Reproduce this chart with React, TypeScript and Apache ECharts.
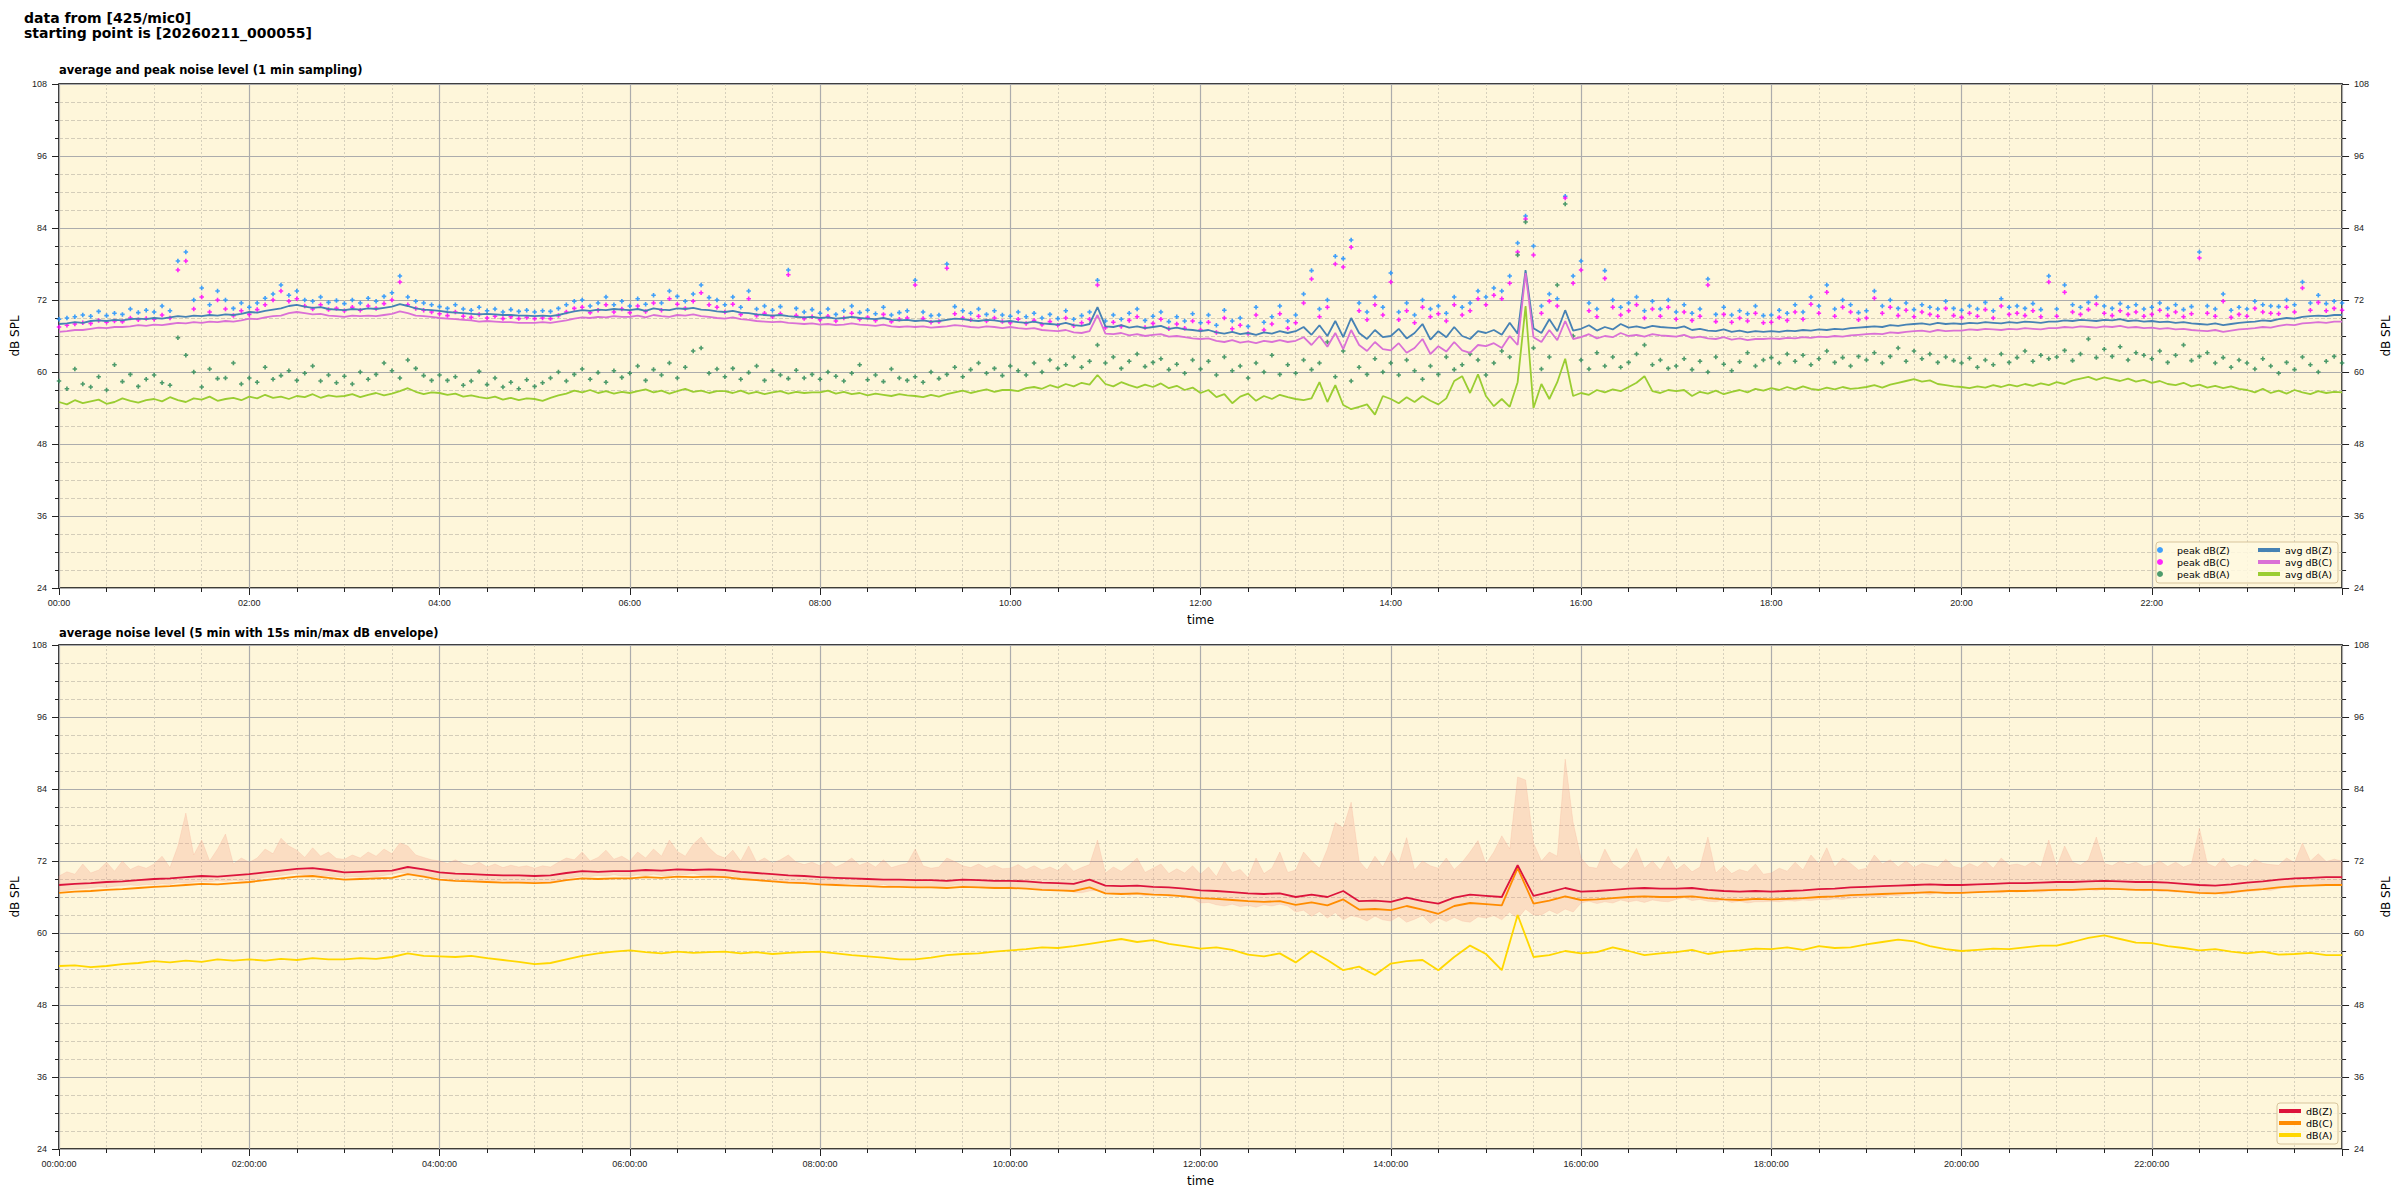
import React, { useEffect, useRef } from 'react';
import * as echarts from 'echarts';

// ---------- tick / text ----------
const mainTitle = 'data from [425/mic0]\nstarting point is [20260211_000055]';
const topTitle = 'average and peak noise level (1 min sampling)';
const botTitle = 'average noise level (5 min with 15s min/max dB envelope)';
const yTicks = [24, 36, 48, 60, 72, 84, 96, 108];
const xTickHours = [0, 2, 4, 6, 8, 10, 12, 14, 16, 18, 20, 22];

// ---------- top chart, 5-minute steps from 00:00 ----------
const TOP_STEP_MIN = 5;
const avgZ = [
68.0,68.1,68.3,68.2,68.5,68.6,68.5,68.7,68.6,68.8,68.9,68.8,
69.0,68.9,69.1,69.3,69.2,69.4,69.3,69.5,69.4,69.6,69.5,69.7,
70.0,69.9,70.2,70.4,70.6,71.0,71.2,70.9,70.7,70.8,70.5,70.4,
70.3,70.5,70.4,70.6,70.5,70.7,70.9,71.3,71.0,70.6,70.4,70.3,
70.2,70.0,69.9,69.8,69.7,69.6,69.7,69.6,69.5,69.5,69.4,69.4,
69.3,69.4,69.3,69.5,69.8,70.1,70.3,70.2,70.4,70.3,70.5,70.4,
70.3,70.5,70.2,70.6,70.4,70.3,70.6,70.5,70.7,70.4,70.3,70.1,
70.0,70.2,69.9,69.8,69.6,69.5,69.4,69.5,69.3,69.2,69.1,69.2,
69.0,69.1,68.9,69.0,69.2,69.0,68.9,68.8,69.0,68.7,68.6,68.7,
68.5,68.6,68.4,68.5,68.7,68.9,68.8,68.6,68.5,68.7,68.6,68.4,
68.5,68.3,68.2,68.4,68.1,68.0,67.9,68.2,67.8,67.7,68.0,70.8,
67.6,67.5,67.8,67.4,67.6,67.3,67.5,67.7,67.2,67.4,67.1,67.0,
66.8,67.0,66.6,66.4,66.7,66.3,66.5,66.2,66.6,66.4,66.8,66.5,
66.8,67.5,66.2,67.8,66.0,68.5,65.8,69.0,66.5,65.5,67.0,65.8,
66.0,67.2,65.6,66.5,68.0,65.4,66.8,65.8,67.5,66.0,65.5,66.8,
66.5,67.0,66.2,68.2,66.4,77.0,67.3,66.5,68.8,66.8,70.3,66.9,
67.2,67.8,66.9,67.5,67.1,68.0,67.4,67.6,67.3,67.7,67.5,67.4,
67.3,67.6,67.0,67.2,66.9,66.8,67.1,66.7,66.9,66.6,66.8,66.7,
66.8,66.7,66.9,66.8,67.0,66.9,67.1,67.0,67.2,67.1,67.3,67.4,
67.5,67.6,67.5,67.8,67.7,67.9,68.0,68.1,67.9,68.2,68.0,68.1,
68.0,68.2,68.1,68.3,68.2,68.1,68.3,68.2,68.4,68.3,68.2,68.4,
68.4,68.6,68.5,68.7,68.6,68.5,68.7,68.6,68.8,68.5,68.6,68.4,
68.5,68.3,68.4,68.2,68.3,68.1,68.0,67.9,68.1,67.8,68.0,68.2,
68.3,68.4,68.6,68.5,68.8,69.0,68.9,69.2,69.3,69.4,69.3,69.5,
69.5];
const avgC = [
66.7,66.8,67.0,67.0,67.2,67.4,67.3,67.5,67.5,67.6,67.8,67.7,
67.9,67.8,68.0,68.2,68.1,68.3,68.2,68.4,68.3,68.5,68.4,68.6,
68.9,68.8,69.1,69.3,69.4,69.8,70.0,69.8,69.6,69.7,69.4,69.3,
69.2,69.4,69.3,69.4,69.3,69.5,69.7,70.1,69.8,69.4,69.3,69.2,
69.0,68.9,68.8,68.7,68.6,68.4,68.5,68.4,68.3,68.3,68.2,68.2,
68.2,68.3,68.2,68.4,68.6,68.9,69.1,69.0,69.2,69.1,69.3,69.2,
69.2,69.4,69.1,69.5,69.3,69.2,69.5,69.4,69.6,69.3,69.2,69.0,
68.9,69.1,68.8,68.7,68.5,68.4,68.3,68.4,68.2,68.1,68.0,68.1,
67.9,68.0,67.8,67.9,68.1,67.9,67.8,67.7,67.9,67.6,67.5,67.6,
67.5,67.6,67.4,67.5,67.6,67.8,67.7,67.5,67.4,67.6,67.5,67.3,
67.5,67.3,67.2,67.3,67.0,66.9,66.8,67.0,66.6,66.5,66.8,69.5,
66.4,66.3,66.5,66.1,66.3,66.0,66.2,66.3,65.9,66.0,65.8,65.6,
65.5,65.6,65.2,65.0,65.3,64.9,65.1,64.8,65.2,65.0,65.3,65.0,
65.2,65.8,64.5,66.0,64.2,66.5,63.8,67.0,64.5,63.5,65.0,63.8,
63.6,64.8,63.2,64.0,65.5,63.0,64.3,63.4,65.0,63.6,63.2,64.5,
64.3,64.8,64.0,66.0,64.5,76.5,65.8,65.0,67.0,65.3,68.5,65.5,
65.8,66.3,65.6,66.0,65.8,66.5,66.0,66.2,65.9,66.3,66.1,66.0,
65.9,66.2,65.7,65.9,65.6,65.5,65.8,65.4,65.6,65.3,65.5,65.5,
65.6,65.5,65.7,65.6,65.8,65.7,65.9,65.8,66.0,65.9,66.1,66.2,
66.3,66.4,66.3,66.6,66.5,66.7,66.8,66.9,66.7,67.0,66.8,66.9,
66.9,67.1,67.0,67.2,67.1,67.0,67.2,67.1,67.3,67.2,67.1,67.3,
67.3,67.5,67.4,67.6,67.5,67.4,67.6,67.5,67.7,67.4,67.5,67.3,
67.4,67.2,67.3,67.1,67.2,67.0,66.9,66.8,67.0,66.7,66.9,67.1,
67.2,67.3,67.5,67.4,67.7,67.9,67.8,68.1,68.2,68.3,68.2,68.4,
68.4];
const avgA = [
55.0,54.6,55.3,54.8,55.1,55.4,54.7,55.0,55.6,55.2,54.9,55.3,
55.5,55.1,55.8,55.3,55.0,55.6,55.4,55.9,55.2,55.5,55.7,55.3,
55.9,55.6,56.2,55.7,55.9,55.5,56.0,55.8,56.3,55.7,56.1,55.9,
56.0,56.3,55.8,56.2,56.5,56.1,56.4,56.8,57.3,56.7,56.3,56.6,
56.5,56.2,56.4,55.9,56.1,55.8,55.6,55.9,55.4,55.7,55.3,55.6,
55.5,55.2,55.7,56.1,56.4,56.9,56.6,57.0,56.5,56.8,56.4,56.7,
56.5,56.8,57.1,56.6,56.9,56.4,56.8,57.2,56.7,56.9,56.5,56.8,
56.8,56.5,56.9,56.4,56.7,56.3,56.6,56.8,56.4,56.7,56.5,56.6,
56.6,56.9,56.4,56.7,56.3,56.5,56.1,56.4,56.2,56.0,56.3,56.1,
56.0,55.8,56.2,55.9,56.3,56.6,56.9,56.5,56.8,57.1,56.7,57.0,
57.0,56.8,57.3,57.5,57.2,57.8,57.4,58.0,57.6,58.2,57.9,59.5,
58.0,57.6,58.3,57.8,57.4,57.9,57.5,58.1,57.3,57.7,57.0,57.4,
56.5,57.0,55.8,56.3,54.8,55.9,56.4,55.2,56.0,55.5,56.2,55.8,
55.5,55.3,55.6,58.3,55.0,57.8,54.5,53.8,54.2,54.6,52.9,56.0,
55.5,54.8,55.8,55.0,56.0,55.2,54.6,55.6,58.5,59.3,56.5,59.6,
56.0,54.3,55.5,54.2,58.3,71.0,54.0,58.0,55.5,58.3,62.2,56.0,
56.5,56.2,57.0,56.6,57.1,56.8,57.5,58.2,59.3,56.8,56.5,57.0,
56.8,57.0,56.0,56.7,56.4,56.9,56.3,56.7,57.0,56.6,57.2,56.9,
57.3,57.0,57.5,57.1,57.6,57.2,57.0,57.4,57.1,57.5,57.2,57.3,
57.5,57.8,57.4,57.9,58.2,58.5,58.8,58.4,58.6,58.0,57.8,57.6,
57.5,57.3,57.6,57.4,57.8,57.5,57.9,57.6,58.0,57.7,58.1,57.8,
58.3,58.0,58.6,58.9,59.2,58.7,59.1,58.8,58.5,58.9,58.4,58.7,
58.2,58.5,58.0,57.8,58.2,57.6,57.9,57.4,57.7,57.3,57.6,57.2,
57.0,56.6,57.2,56.5,56.9,56.4,57.0,56.6,56.3,56.8,56.5,56.7,
56.6];
const peakZ = [
68.8,69.0,69.2,69.5,69.3,70.1,69.4,69.8,69.6,70.5,69.9,70.3,
70.0,71.0,70.2,78.5,80.0,72.0,74.0,71.2,73.5,72.0,70.6,71.5,
70.8,71.5,72.3,73.0,74.5,72.8,73.5,72.0,71.8,72.5,71.6,71.9,
71.4,72.0,71.5,72.3,71.8,72.6,73.2,76.0,72.5,71.8,71.5,71.2,
70.9,70.6,71.2,70.5,70.3,70.8,70.2,70.5,70.0,70.4,70.1,70.3,
70.0,70.2,70.1,70.6,71.2,71.8,72.0,71.0,71.5,72.5,71.2,71.8,
71.0,72.2,71.3,72.8,71.5,73.5,72.6,71.8,73.0,74.5,72.4,72.0,
71.2,72.5,70.8,73.5,70.5,71.0,70.3,70.9,77.0,70.6,70.0,70.4,
69.8,70.5,69.6,70.2,71.0,69.9,70.3,69.7,70.8,69.5,69.9,70.2,
75.3,70.0,69.4,69.5,78.0,70.9,70.2,69.8,70.5,69.6,70.2,69.5,
69.3,70.0,69.2,69.8,69.0,69.6,68.9,70.2,68.8,69.4,70.0,75.3,
68.5,69.5,68.8,69.8,70.5,68.6,69.3,70.0,68.4,69.2,68.5,69.7,
68.2,69.5,67.8,70.3,68.5,69.0,67.6,70.8,68.3,69.2,71.0,68.5,
69.5,73.0,76.9,70.5,72.0,79.3,78.9,82.0,71.5,70.0,72.5,70.8,
76.5,70.0,71.5,69.5,72.0,70.5,71.0,69.8,72.5,70.8,71.5,73.5,
72.5,74.0,73.5,76.0,81.5,86.0,81.0,71.0,73.0,72.2,89.3,76.0,
78.5,71.5,70.5,76.9,72.0,70.8,71.5,72.5,70.2,71.8,70.5,72.0,
70.0,71.2,69.8,70.5,75.5,69.6,70.8,69.5,70.2,69.7,71.0,69.4,
69.5,70.3,69.8,71.2,70.0,72.5,71.0,74.5,70.5,72.0,71.2,69.9,
70.2,73.5,71.0,72.0,70.6,71.5,70.4,71.2,70.8,70.5,71.8,70.6,
70.3,71.0,70.5,71.6,70.2,72.2,70.8,71.0,70.6,71.4,70.4,76.0,
70.5,74.5,71.2,70.8,71.6,72.5,71.0,70.6,71.4,70.8,71.2,70.5,
70.8,71.5,70.6,71.2,70.4,70.9,80.0,71.0,70.5,73.0,70.3,70.8,
70.5,71.8,71.2,71.0,70.9,72.0,71.2,75.0,71.5,72.8,71.4,71.8,
71.5];
const peakC = [
67.5,67.8,68.0,68.2,68.1,68.6,68.3,68.5,68.4,69.0,68.7,68.9,
68.8,69.5,69.0,77.0,78.5,70.5,72.5,70.0,72.0,70.5,69.4,70.2,
69.6,70.4,71.2,72.0,73.5,71.8,72.2,71.0,70.5,71.2,70.4,70.6,
70.2,70.8,70.3,71.0,70.6,71.4,72.0,75.0,71.2,70.6,70.3,70.0,
69.7,69.4,70.0,69.3,69.1,69.6,69.0,69.3,68.9,69.2,68.9,69.1,
68.9,69.0,68.9,69.4,70.0,70.6,70.8,69.9,70.3,71.2,70.0,70.5,
69.9,71.0,70.1,71.5,70.3,72.2,71.3,70.6,71.8,73.2,71.2,70.8,
70.0,71.3,69.6,72.2,69.4,69.8,69.2,69.7,76.2,69.4,68.9,69.2,
68.7,69.3,68.5,69.0,69.8,68.8,69.1,68.6,69.6,68.4,68.8,69.0,
74.5,68.9,68.3,68.4,77.3,69.7,69.0,68.7,69.3,68.5,69.0,68.4,
68.2,68.8,68.1,68.6,67.9,68.4,67.8,69.0,67.7,68.2,68.8,74.5,
67.4,68.3,67.6,68.6,69.2,67.4,68.1,68.8,67.2,68.0,67.3,68.5,
67.0,68.3,66.6,69.0,67.2,67.8,66.4,69.5,67.0,68.0,69.7,67.3,
68.2,71.5,75.5,69.2,70.8,78.0,77.5,80.8,70.2,68.7,71.2,69.5,
75.0,68.7,70.2,68.2,70.8,69.2,69.7,68.5,71.2,69.5,70.2,72.2,
71.2,72.8,72.2,74.8,80.0,85.5,79.5,69.8,71.8,71.0,89.0,74.8,
77.0,70.2,69.2,75.6,70.8,69.5,70.2,71.2,69.0,70.5,69.3,70.8,
68.8,70.0,68.6,69.3,74.5,68.4,69.6,68.3,69.0,68.5,69.8,68.2,
68.3,69.1,68.6,70.0,68.8,71.3,69.8,73.3,69.3,70.8,70.0,68.7,
69.0,72.3,69.8,70.8,69.4,70.3,69.2,70.0,69.6,69.3,70.6,69.4,
69.1,69.8,69.3,70.4,69.0,71.0,69.6,69.8,69.4,70.2,69.2,75.0,
69.3,73.3,70.0,69.6,70.4,71.3,69.8,69.4,70.2,69.6,70.0,69.3,
69.6,70.3,69.4,70.0,69.2,69.7,79.0,69.8,69.3,71.8,69.1,69.6,
69.3,70.6,70.0,69.8,69.7,70.8,70.0,74.0,70.3,71.6,70.2,70.6,
70.3];
const peakA = [
58.5,57.2,60.5,58.0,57.5,59.2,57.0,61.2,58.4,59.6,57.6,58.8,
59.5,58.2,57.8,65.7,62.8,60.0,57.5,60.5,58.9,59.0,61.5,58.0,
59.0,58.3,60.8,58.8,59.4,60.2,58.6,59.8,61.0,58.5,59.5,58.2,
59.3,58.0,60.0,58.8,59.6,61.5,60.2,59.0,62.0,60.6,59.4,58.6,
59.5,58.6,59.2,57.8,58.5,60.1,57.9,59.0,57.5,58.3,57.2,58.7,
57.6,58.2,59.0,60.0,58.5,59.6,60.5,58.8,59.9,58.3,60.2,59.1,
59.8,61.0,58.6,60.4,59.5,61.5,59.0,60.8,63.5,64.0,59.8,60.5,
59.2,60.6,58.8,59.9,61.0,58.6,60.2,59.5,58.9,60.3,59.0,59.6,
58.8,60.0,59.3,58.5,59.8,61.2,58.7,59.5,58.4,60.5,59.0,58.6,
59.2,58.3,60.0,58.9,59.6,60.8,59.2,60.4,61.5,59.8,60.6,59.4,
61.0,60.2,59.5,61.5,60.0,62.0,60.6,61.2,62.5,60.8,61.8,64.5,
61.5,62.5,60.6,61.8,63.0,60.9,61.6,62.2,60.4,61.3,59.8,62.0,
60.5,61.8,59.5,62.5,60.2,61.0,59.0,61.5,60.0,62.8,59.6,61.2,
59.8,62.0,60.4,61.5,65.0,59.2,63.5,58.5,60.8,59.6,62.2,60.0,
61.5,59.5,62.0,60.2,58.8,61.0,59.6,62.5,60.4,61.2,63.0,62.0,
59.5,61.5,63.5,62.5,79.5,85.0,64.0,60.5,62.5,74.5,88.0,66.0,
62.0,60.5,63.2,61.0,62.5,60.8,61.6,63.0,64.5,61.2,62.0,60.6,
61.0,62.2,60.4,61.8,60.0,62.5,61.3,60.2,61.7,63.2,61.0,62.0,
62.4,61.5,63.0,61.8,62.8,61.2,62.2,63.5,61.6,62.4,61.0,62.6,
62.0,63.2,61.5,62.6,64.0,61.8,63.5,62.2,63.0,61.6,62.5,61.9,
61.5,62.3,60.8,62.0,61.2,63.0,61.6,62.4,63.5,61.8,62.8,62.2,
62.5,63.6,61.9,63.0,65.5,62.4,63.8,62.6,64.2,62.0,63.2,62.8,
62.2,63.5,61.6,62.8,64.5,61.9,62.6,63.2,61.5,62.4,60.8,62.0,
61.5,60.5,62.2,61.0,59.8,61.6,60.4,62.5,61.2,60.0,61.8,62.6,
61.5];

// ---------- bottom chart ----------
const BOT_STEP_MIN = 10;
const botZ = [
68.0,68.2,68.3,68.5,68.6,68.8, 69.0,69.1,69.3,69.5,69.4,69.6,
69.8,70.1,70.4,70.7,70.8,70.5, 70.1,70.2,70.3,70.4,71.0,70.6,
70.1,69.9,69.8,69.7,69.6,69.6, 69.5,69.6,70.0,70.3,70.2,70.3,
70.3,70.5,70.4,70.6,70.5,70.6, 70.5,70.2,70.0,69.8,69.6,69.5,
69.3,69.2,69.1,69.0,68.9,68.9, 68.8,68.8,68.7,68.9,68.8,68.7,
68.7,68.6,68.4,68.3,68.2,68.9, 67.9,67.8,67.9,67.7,67.6,67.4,
67.1,67.0,66.8,66.6,66.5,66.6, 66.0,66.4,66.0,67.0,65.3,65.4,
65.2,65.9,65.3,64.9,65.9,66.4, 66.2,66.0,71.3,66.2,66.8,67.5,
66.9,67.0,67.2,67.4,67.5,67.4, 67.4,67.5,67.2,67.0,66.9,67.0,
66.9,67.0,67.1,67.3,67.4,67.6, 67.7,67.8,67.9,68.0,68.1,68.0,
68.0,68.1,68.2,68.3,68.3,68.4, 68.5,68.5,68.6,68.7,68.6,68.5,
68.5,68.4,68.2,68.0,67.9,68.1, 68.4,68.6,68.9,69.1,69.2,69.3,
69.3];
const botC = [
66.7,66.9,67.0,67.2,67.3,67.5, 67.7,67.8,68.0,68.2,68.1,68.3,
68.5,68.8,69.1,69.4,69.5,69.2, 68.9,69.0,69.1,69.2,69.8,69.4,
68.9,68.7,68.6,68.5,68.4,68.4, 68.3,68.4,68.8,69.1,69.0,69.1,
69.1,69.3,69.2,69.4,69.3,69.4, 69.3,69.0,68.8,68.6,68.4,68.3,
68.1,68.0,67.9,67.8,67.7,67.7, 67.6,67.6,67.5,67.7,67.6,67.5,
67.5,67.4,67.2,67.1,67.0,67.6, 66.6,66.5,66.6,66.4,66.3,66.1,
65.8,65.7,65.5,65.3,65.2,65.3, 64.7,65.1,64.6,65.6,63.9,64.0,
63.8,64.5,63.9,63.2,64.5,65.0, 64.8,64.6,70.8,64.9,65.4,66.1,
65.5,65.6,65.8,66.0,66.1,66.0, 66.0,66.1,65.8,65.6,65.5,65.7,
65.6,65.7,65.8,66.0,66.1,66.3, 66.4,66.5,66.6,66.7,66.8,66.7,
66.7,66.8,66.9,67.0,67.0,67.1, 67.2,67.2,67.3,67.4,67.3,67.2,
67.2,67.1,66.9,66.7,66.6,66.8, 67.1,67.3,67.6,67.8,67.9,68.0,
68.0];
const botA = [
54.5,54.6,54.3,54.5,54.8,55.0, 55.3,55.1,55.4,55.2,55.6,55.4,
55.6,55.4,55.7,55.5,55.8,55.6, 55.6,55.8,55.7,56.0,56.6,56.2,
56.1,56.0,56.2,55.8,55.5,55.2, 54.8,55.0,55.6,56.2,56.6,56.9,
57.1,56.8,56.6,56.9,56.7,56.8, 56.9,56.6,56.8,56.5,56.7,56.8,
56.9,56.6,56.3,56.1,55.9,55.6, 55.6,55.9,56.3,56.5,56.6,56.9,
57.1,57.3,57.6,57.5,57.8,58.2, 58.6,59.0,58.5,58.8,58.2,57.8,
57.4,57.6,57.2,56.4,56.1,56.6, 55.1,57.0,55.5,53.8,54.4,53.0,
54.9,55.3,55.5,53.8,56.0,57.9, 56.5,53.8,63.0,56.0,56.3,57.0,
56.6,56.8,57.6,57.0,56.3,56.6, 56.8,57.2,56.5,56.9,57.1,57.4,
57.3,57.6,57.2,57.8,57.5,57.6, 58.1,58.5,58.9,58.6,57.8,57.3,
57.0,57.2,57.4,57.3,57.6,57.9, 57.9,58.5,59.2,59.6,59.0,58.4,
58.3,57.8,57.5,57.1,57.3,56.9, 56.6,56.9,56.4,56.5,56.7,56.3,
56.3];
const ENV_STEP_MIN = 5;
const envMax = [
69.5,70.2,69.8,71.5,70.0,70.5,71.8,70.3,72.0,70.6,71.2,70.8,
71.5,72.8,70.9,74.5,80.0,73.0,75.5,72.0,74.0,76.5,71.5,72.5,
71.8,72.5,74.0,73.2,75.8,74.5,73.8,72.6,74.2,72.8,73.5,72.4,
72.3,73.0,72.5,73.5,72.8,74.0,73.2,75.0,74.5,73.0,72.6,72.2,
72.0,71.6,72.2,71.5,71.2,71.8,71.0,71.5,70.9,71.3,71.0,71.2,
70.8,71.2,71.0,71.8,72.5,72.2,73.5,72.0,72.6,73.8,72.3,72.8,
72.0,73.5,72.5,74.0,72.8,75.5,73.6,72.8,74.8,76.0,74.2,73.0,
72.5,73.8,72.0,74.5,71.8,72.5,71.6,72.2,73.0,71.8,71.4,71.8,
71.2,72.0,71.0,71.6,72.5,71.3,71.8,71.0,72.2,70.9,71.3,71.6,
74.0,71.2,70.8,71.0,72.5,71.9,71.2,70.9,71.5,70.8,71.3,70.7,
70.8,71.4,70.6,71.2,70.5,71.0,70.4,71.6,70.3,70.9,71.4,75.5,
70.0,71.0,70.3,71.3,72.5,70.1,70.8,71.5,69.9,70.7,70.0,71.2,
69.8,71.0,69.4,72.0,70.1,70.6,69.2,72.5,69.9,70.8,73.5,70.1,
70.5,73.5,72.0,70.8,74.0,78.4,77.5,81.8,72.0,70.5,72.8,71.0,
73.7,71.5,75.9,70.5,72.0,71.2,70.8,72.5,70.6,71.8,73.5,75.4,
71.5,73.5,76.2,74.0,86.0,85.5,75.0,72.0,73.5,72.8,89.0,78.4,
72.5,71.0,70.8,74.0,71.5,70.6,71.8,74.1,70.8,72.0,70.5,72.8,
70.5,71.5,70.2,71.0,76.0,70.0,71.2,69.9,70.6,70.2,71.5,69.8,
70.0,70.8,70.3,71.8,70.5,73.0,71.5,74.2,71.0,72.5,71.6,70.5,
70.8,73.0,71.5,72.2,71.0,72.0,70.9,71.6,71.3,71.0,72.3,71.1,
70.8,71.6,71.0,72.0,70.8,72.5,71.3,71.5,71.1,71.9,71.0,75.5,
71.0,74.5,71.8,71.3,72.2,76.0,71.6,71.2,72.0,71.4,71.8,71.1,
71.3,72.0,71.1,71.8,71.0,71.5,77.5,71.6,71.0,72.5,70.9,71.4,
71.0,72.3,71.6,71.4,71.3,72.5,71.7,75.0,72.0,73.2,71.9,72.3,
72.0];
const envMin = [
67.0,67.1,67.3,67.4,67.5,67.7,67.6,67.8,67.9,68.0,67.9,68.1,
68.0,68.2,68.1,68.4,68.3,68.5,68.6,68.5,68.7,68.6,68.8,68.7,
68.9,69.0,69.3,69.4,69.6,69.8,69.9,69.7,69.8,69.6,69.5,69.4,
69.3,69.4,69.3,69.5,69.4,69.6,69.8,70.1,69.9,69.6,69.5,69.4,
69.2,69.1,69.0,68.9,68.8,68.7,68.8,68.6,68.7,68.5,68.6,68.5,
68.5,68.6,68.5,68.8,69.1,69.3,69.5,69.4,69.6,69.5,69.7,69.5,
69.5,69.7,69.5,69.8,69.6,69.5,69.8,69.7,69.9,69.6,69.7,69.4,
69.3,69.5,69.1,69.0,68.8,68.7,68.6,68.7,68.5,68.4,68.3,68.4,
68.2,68.3,68.1,68.2,68.3,68.1,68.0,67.9,68.1,67.8,67.7,67.8,
67.7,67.8,67.6,67.7,67.8,68.0,67.9,67.7,67.6,67.8,67.7,67.5,
67.7,67.5,67.4,67.5,67.2,67.1,67.0,67.2,66.8,66.7,67.0,67.1,
66.6,66.5,66.7,66.3,66.5,66.2,66.4,66.5,66.1,66.2,66.0,65.8,
65.0,65.1,64.7,64.5,64.8,64.4,64.6,64.3,64.7,64.5,64.8,64.5,
63.5,63.8,62.8,63.6,62.5,63.4,62.2,62.9,62.6,62.0,62.8,62.2,
62.0,62.8,61.8,62.3,62.9,61.6,62.5,61.9,62.6,62.0,61.8,62.7,
62.5,62.9,62.2,63.5,62.4,64.0,63.0,63.0,63.8,63.2,64.0,63.5,
65.0,65.3,64.9,65.2,65.0,65.5,65.2,65.4,65.1,65.5,65.3,65.2,
65.6,65.9,65.4,65.6,65.3,65.2,65.5,65.1,65.3,65.0,65.2,65.2,
65.3,65.2,65.4,65.3,65.5,65.4,65.6,65.5,65.7,65.6,65.8,65.9,
66.0,66.1,66.0,66.3,66.2,66.4,66.5,66.6,66.4,66.7,66.5,66.6,
66.6,66.8,66.7,66.9,66.8,66.7,66.9,66.8,67.0,66.9,66.8,67.0,
67.0,67.2,67.1,67.3,67.2,67.1,67.3,67.2,67.4,67.1,67.2,67.0,
67.1,66.9,67.0,66.8,66.9,66.7,66.6,66.5,66.7,66.4,66.6,66.8,
66.9,67.0,67.2,67.1,67.4,67.6,67.5,67.8,67.9,68.0,67.9,68.1,
68.1];

// ---------- helpers ----------
const pairs = (arr: number[], stepMin: number) => arr.map((v, i) => [(i * stepMin) / 60, v]);
const pad2 = (n: number) => String(n).padStart(2, '0');

const FONT = 'DejaVu Sans';
const TICKFONT = 'Liberation Sans';
const BG = '#fef6da';
const PLUS = 'path://M1.6,0H3.4V1.6H5V3.4H3.4V5H1.6V3.4H0V1.6H1.6Z';

const G_LEFT = 59;
const G_RIGHT = 57;
const TOP1 = 84;
const TOP2 = 645;
const GH = 504;

function xAxisCfg(gridIndex: number, longFmt: boolean) {
  return {
    type: 'value', gridIndex, min: 0, max: 24, interval: 2,
    name: 'time', nameLocation: 'middle', nameGap: 26,
    nameTextStyle: { fontFamily: FONT, fontSize: 12, color: '#000' },
    axisLine: { show: false },
    axisTick: { show: true, length: 7, lineStyle: { color: '#222', width: 1 } },
    minorTick: { show: true, splitNumber: 4, length: 4, lineStyle: { color: '#222', width: 1 } },
    axisLabel: {
      fontFamily: TICKFONT, fontSize: 9, color: '#222', margin: 10,
      showMaxLabel: false,
      formatter: (v: number) => (xTickHours.includes(v) ? (longFmt ? `${pad2(v)}:00:00` : `${pad2(v)}:00`) : ''),
    },
    splitLine: { show: true, lineStyle: { color: '#acacac', width: 1.2 } },
    minorSplitLine: { show: true, lineStyle: { color: '#cbc6b4', width: 0.8, type: [2, 2] } },
  };
}

function yAxisCfg(gridIndex: number, position: 'left' | 'right', main: boolean) {
  return {
    type: 'value', gridIndex, position, min: yTicks[0], max: yTicks[yTicks.length - 1], interval: 12,
    name: 'dB SPL', nameLocation: 'middle', nameGap: position === 'left' ? 35 : 30, nameRotate: 90,
    nameTextStyle: { fontFamily: FONT, fontSize: 12, color: '#000' },
    axisLine: { show: false },
    axisTick: { show: true, length: 7, lineStyle: { color: '#222', width: 1 } },
    minorTick: { show: true, splitNumber: 4, length: 4, lineStyle: { color: '#222', width: 1 } },
    axisLabel: { fontFamily: TICKFONT, fontSize: 9, color: '#222', margin: 12 },
    splitLine: { show: main, lineStyle: { color: '#acacac', width: 1.2 } },
    minorSplitLine: { show: main, lineStyle: { color: '#c9c3b0', width: 0.8, type: [4, 2] } },
  };
}

export default function App() {
  const ref = useRef<HTMLDivElement>(null);
  useEffect(() => {
    if (!ref.current) return;
    const chart = echarts.init(ref.current, undefined, { renderer: 'svg' });
    const line = (name: string, data: number[], step: number, color: string, xi: number, yi: number, width = 1.8) => ({
      name, type: 'line', data: pairs(data, step), xAxisIndex: xi, yAxisIndex: yi,
      showSymbol: false, symbol: 'none', lineStyle: { color, width }, itemStyle: { color }, z: 3,
    });
    const scat = (name: string, data: number[], color: string) => ({
      name, type: 'scatter', data: pairs(data, TOP_STEP_MIN), xAxisIndex: 0, yAxisIndex: 0,
      symbol: PLUS, symbolSize: 4.5, itemStyle: { color, opacity: 0.85 }, z: 2,
    });
    const legendText = { fontFamily: FONT, fontSize: 9.5, color: '#000', lineHeight: 12 };
    const envSeries = {
      name: 'envelope', type: 'custom', xAxisIndex: 1, yAxisIndex: 2, silent: true, z: 1,
      data: [[0, envMin[0]]],
      renderItem: (_params: any, api: any) => {
        const pts: number[][] = [];
        envMax.forEach((v, i) => pts.push(api.coord([(i * ENV_STEP_MIN) / 60, v])));
        for (let i = envMin.length - 1; i >= 0; i--) pts.push(api.coord([(i * ENV_STEP_MIN) / 60, envMin[i]]));
        return {
          type: 'polygon', shape: { points: pts },
          style: { fill: 'rgba(245,150,128,0.26)', stroke: 'rgba(245,150,128,0.3)', lineWidth: 0.6 },
        };
      },
    };
    const option: any = {
      animation: false,
      backgroundColor: '#ffffff',
      title: [
        { text: mainTitle, left: 24, top: 10, padding: 0,
          textStyle: { fontFamily: FONT, fontSize: 14, fontWeight: 'bold', color: '#000', lineHeight: 15.5 } },
        { text: topTitle, left: G_LEFT, top: 63, padding: 0,
          textStyle: { fontFamily: FONT, fontSize: 11.5, fontWeight: 'bold', color: '#000', lineHeight: 14 } },
        { text: botTitle, left: G_LEFT, top: 626, padding: 0,
          textStyle: { fontFamily: FONT, fontSize: 11.5, fontWeight: 'bold', color: '#000', lineHeight: 14 } },
      ],
      grid: [
        { left: G_LEFT, right: G_RIGHT, top: TOP1, height: GH, show: true, backgroundColor: BG, borderColor: '#000', borderWidth: 1.6 },
        { left: G_LEFT, right: G_RIGHT, top: TOP2, height: GH, show: true, backgroundColor: BG, borderColor: '#000', borderWidth: 1.6 },
      ],
      xAxis: [xAxisCfg(0, false), xAxisCfg(1, true)],
      yAxis: [yAxisCfg(0, 'left', true), yAxisCfg(0, 'right', false), yAxisCfg(1, 'left', true), yAxisCfg(1, 'right', false)],
      legend: [
        { orient: 'vertical', left: 2157, top: 544, padding: 0, itemGap: 0, itemWidth: 24, itemHeight: 6, z: 20,
          selectedMode: false, textStyle: legendText,
          data: [{ name: 'peak dB(Z)', icon: 'circle' }, { name: 'peak dB(C)', icon: 'circle' }, { name: 'peak dB(A)', icon: 'circle' }] },
        { orient: 'vertical', left: 2258, top: 544, padding: 0, itemGap: 0, itemWidth: 22, itemHeight: 4, z: 20,
          selectedMode: false, textStyle: legendText,
          data: [{ name: 'avg dB(Z)', icon: 'rect' }, { name: 'avg dB(C)', icon: 'rect' }, { name: 'avg dB(A)', icon: 'rect' }] },
        { orient: 'vertical', left: 2279, top: 1105, padding: 0, itemGap: 0, itemWidth: 22, itemHeight: 4, z: 20,
          selectedMode: false, textStyle: legendText,
          data: [{ name: 'dB(Z)', icon: 'rect' }, { name: 'dB(C)', icon: 'rect' }, { name: 'dB(A)', icon: 'rect' }] },
      ],
      graphic: [
        { type: 'rect', z: 10, shape: { x: 2156, y: 542, width: 182, height: 41, r: 3 },
          style: { fill: 'rgba(255,249,225,0.85)', stroke: '#d8c59c', lineWidth: 1 } },
        { type: 'rect', z: 10, shape: { x: 2277, y: 1103, width: 61, height: 41, r: 3 },
          style: { fill: 'rgba(255,249,225,0.85)', stroke: '#d8c59c', lineWidth: 1 } },
      ],
      series: [
        scat('peak dB(Z)', peakZ, '#1e90ff'),
        scat('peak dB(C)', peakC, '#ff00ff'),
        scat('peak dB(A)', peakA, '#2e8b57'),
        line('avg dB(Z)', avgZ, TOP_STEP_MIN, '#4682b4', 0, 0),
        line('avg dB(C)', avgC, TOP_STEP_MIN, '#da70d6', 0, 0),
        line('avg dB(A)', avgA, TOP_STEP_MIN, '#9acd32', 0, 0),
        envSeries,
        line('dB(A)', botA, BOT_STEP_MIN, '#ffd700', 1, 2),
        line('dB(C)', botC, BOT_STEP_MIN, '#ff8c00', 1, 2),
        line('dB(Z)', botZ, BOT_STEP_MIN, '#dc143c', 1, 2),
      ],
    };
    chart.setOption(option);
    return () => chart.dispose();
  }, []);
  return <div ref={ref} style={{ position: 'fixed', left: 0, top: 0, width: 2400, height: 1200 }} />;
}
